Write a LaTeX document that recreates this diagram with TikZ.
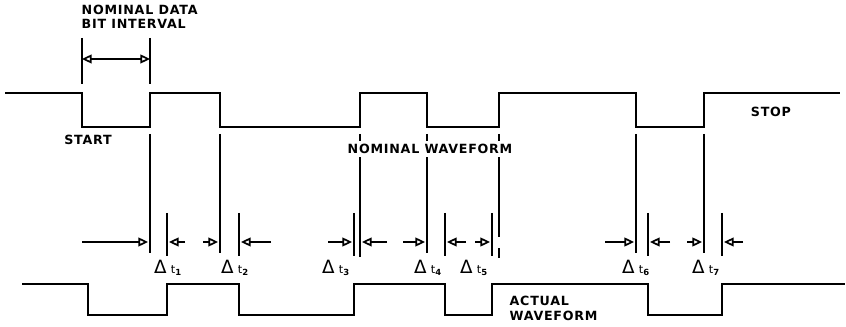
\documentclass[tikz,border=0pt]{standalone}
\usepackage{fontspec}
\setmainfont{DejaVu Sans}[LetterSpace=6]
\usepackage{tikz}
\usetikzlibrary{arrows.meta,positioning}

\begin{document}
\begin{tikzpicture}[
  x=0.025cm, y=-0.025cm,
  every node/.style={font=\bfseries\fontsize{9}{10.6}\selectfont, inner sep=1pt},
  wave/.style={line width=1.4pt, line join=miter},
  tick/.style={line width=1pt},
  arr/.style={-{Triangle[open, length=2.4mm, width=2.2mm, line width=1.2pt]}, line width=1pt},
  dim/.style={{Triangle[open, length=2.4mm, width=2.2mm, line width=1.2pt]}-{Triangle[open, length=2.4mm, width=2.2mm, line width=1.2pt]}, line width=1pt},
  dlabel/.style={font=\mdseries\fontsize{8}{10}\selectfont}
]
\useasboundingbox (0,0) rectangle (846,327);

% Nominal waveform
\draw[wave] (5,93) -- (82,93) -- (82,127) -- (150,127) -- (150,93) -- (220,93) -- (220,127)
  -- (360,127) -- (360,93) -- (427,93) -- (427,127) -- (499,127) -- (499,93) -- (636,93)
  -- (636,127) -- (704,127) -- (704,93) -- (840,93);

% Actual waveform
\draw[wave] (22,284) -- (88,284) -- (88,315) -- (167,315) -- (167,284) -- (239,284) -- (239,315)
  -- (354,315) -- (354,284) -- (445,284) -- (445,315) -- (492,315) -- (492,284) -- (648,284)
  -- (648,315) -- (722,315) -- (722,284) -- (845,284);

% Bit interval
\draw[tick] (82,38) -- (82,84);
\draw[tick] (150,38) -- (150,84);
\draw[dim] (82,59) -- (150,59);
\node[anchor=north west, align=left] (bitlbl) at (80,3) {NOMINAL DATA\\BIT INTERVAL};

% Nominal edges
\foreach \x/\y in {150/253, 220/253, 360/257, 427/253, 636/253, 704/253}
  \draw[tick] (\x,134) -- (\x,\y);
\draw[tick] (499,134) -- (499,237);
\draw[tick] (499,248) -- (499,258);

% Actual edges
\foreach \x in {167, 239, 354, 445, 492, 648, 722}
  \draw[tick] (\x,213) -- (\x,256);

% Arrows
\foreach \a/\b in {82/148, 203/218, 328/352, 403/425, 475/490, 605/634, 687/702,
                   185/169, 271/241, 387/362, 466/447, 670/650, 743/724}
  \draw[arr] (\a,242) -- (\b,242);

% Delta t labels
\foreach \n/\x in {1/168, 2/235, 3/336, 4/428, 5/474, 6/636, 7/706}
  \node[dlabel] (dt\n) at (\x,268) {{\fontsize{13}{13}\selectfont Δ}\ t\textsubscript{\bfseries\n}};

% Labels
\node (start) at (88,140) {START};
\node (stop) at (771,112) {STOP};
\node[fill=white, inner sep=2pt] (nomlbl) at (430,149) {NOMINAL WAVEFORM};
\node[anchor=west, align=left] (actlbl) at (508,308) {ACTUAL\\WAVEFORM};

\end{tikzpicture}
\end{document}
